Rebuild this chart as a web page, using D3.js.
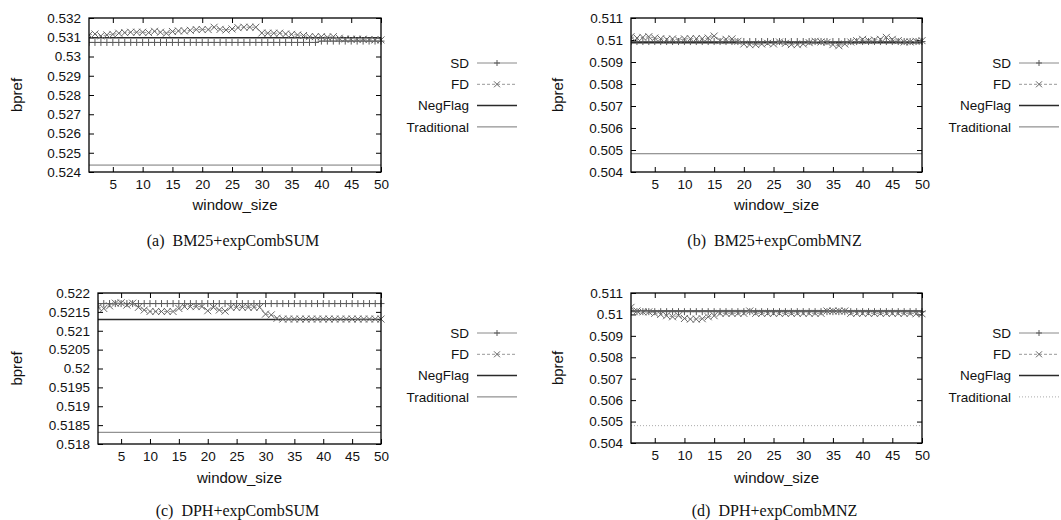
<!DOCTYPE html>
<html><head><meta charset="utf-8">
<script src="https://cdnjs.cloudflare.com/ajax/libs/d3/7.8.5/d3.min.js"></script>
<style>body{margin:0;background:#fff}svg{display:block}</style>
</head><body><svg id="chart" width="1061" height="520"></svg>
<script>
// ---------- data ----------
const windowSize = [1,2,3,4,5,6,7,8,9,10,11,12,13,14,15,16,17,18,19,20,21,22,23,24,25,26,27,28,29,30,31,32,33,34,35,36,37,38,39,40,41,42,43,44,45,46,47,48,49,50];
const xTicks = [5,10,15,20,25,30,35,40,45,50];
const seriesNames = ["SD","FD","NegFlag","Traditional"];
const captions = ["(a)  BM25+expCombSUM","(b)  BM25+expCombMNZ","(c)  DPH+expCombSUM","(d)  DPH+expCombMNZ"];
const xLabel = "window_size";
const yLabel = "bpref";

const yTicksA = [0.524,0.525,0.526,0.527,0.528,0.529,0.53,0.531,0.532];
const yTickLabelsA = ["0.524","0.525","0.526","0.527","0.528","0.529","0.53","0.531","0.532"];
const yTicksB = [0.504,0.505,0.506,0.507,0.508,0.509,0.51,0.511];
const yTickLabelsB = ["0.504","0.505","0.506","0.507","0.508","0.509","0.51","0.511"];
const yTicksC = [0.518,0.5185,0.519,0.5195,0.52,0.5205,0.521,0.5215,0.522];
const yTickLabelsC = ["0.518","0.5185","0.519","0.5195","0.52","0.5205","0.521","0.5215","0.522"];
const yTicksD = [0.504,0.505,0.506,0.507,0.508,0.509,0.51,0.511];
const yTickLabelsD = ["0.504","0.505","0.506","0.507","0.508","0.509","0.51","0.511"];

const sdA = [0.53073,0.53073,0.53073,0.53073,0.53073,0.53073,0.53073,0.53073,0.53073,0.53073,0.53073,0.53073,0.53073,0.53073,0.53073,0.53073,0.53073,0.53073,0.53073,0.53073,0.53073,0.53073,0.53073,0.53073,0.53073,0.53073,0.53073,0.53073,0.53073,0.53073,0.53073,0.53073,0.53073,0.53073,0.53073,0.53073,0.53073,0.53073,0.53073,0.5308,0.5308,0.5308,0.5308,0.5308,0.5308,0.5308,0.5308,0.5308,0.5308,0.5308];
const fdA = [0.53112,0.53117,0.53107,0.53112,0.53115,0.53121,0.53124,0.53126,0.53126,0.53126,0.53124,0.53131,0.53126,0.53121,0.5313,0.53133,0.53133,0.53136,0.5314,0.5314,0.5314,0.53152,0.53141,0.53138,0.53143,0.5315,0.53152,0.53152,0.53152,0.53122,0.53121,0.53121,0.53121,0.53117,0.53115,0.53112,0.53109,0.53103,0.53103,0.53103,0.531,0.53103,0.53095,0.53091,0.5309,0.5309,0.5309,0.53088,0.53086,0.53086];
const negFlagA = 0.53098;
const traditionalA = 0.52436;

const sdB = [0.50993,0.50993,0.50993,0.50993,0.50993,0.50993,0.50993,0.50993,0.50993,0.50993,0.50993,0.50993,0.50993,0.50993,0.50993,0.50993,0.50993,0.50993,0.50993,0.50993,0.50993,0.50993,0.50993,0.50993,0.50993,0.50993,0.50993,0.50993,0.50993,0.50993,0.50993,0.50993,0.50993,0.50993,0.50993,0.50993,0.50993,0.50993,0.50993,0.50993,0.50993,0.50993,0.50993,0.50993,0.50993,0.50993,0.50993,0.50993,0.50993,0.50993];
const fdB = [0.51015,0.51009,0.51012,0.51015,0.51009,0.51006,0.51003,0.51005,0.51,0.51005,0.51006,0.51006,0.51006,0.51009,0.51018,0.50997,0.51003,0.51005,0.50994,0.50982,0.50979,0.50979,0.50982,0.50985,0.50982,0.50991,0.50985,0.50979,0.50979,0.50982,0.50988,0.50994,0.50991,0.50989,0.50979,0.50974,0.50982,0.50991,0.50997,0.51003,0.50997,0.51,0.51003,0.51012,0.51003,0.50997,0.50991,0.50991,0.50994,0.50997];
const negFlagB = 0.50987;
const traditionalB = 0.50483;

const sdC = [0.52172,0.52172,0.52172,0.52172,0.52172,0.52172,0.52172,0.52172,0.52172,0.52172,0.52172,0.52172,0.52172,0.52172,0.52172,0.52172,0.52172,0.52172,0.52172,0.52172,0.52172,0.52172,0.52172,0.52172,0.52172,0.52172,0.52172,0.52172,0.52172,0.52172,0.52172,0.52172,0.52172,0.52172,0.52172,0.52172,0.52172,0.52172,0.52172,0.52172,0.52172,0.52172,0.52172,0.52172,0.52172,0.52172,0.52172,0.52172,0.52172,0.52172];
const fdC = [0.52162,0.52159,0.52166,0.52173,0.52174,0.52168,0.52173,0.52162,0.52155,0.52151,0.52151,0.52151,0.52151,0.52151,0.52159,0.52164,0.52164,0.52164,0.52164,0.52153,0.52162,0.52155,0.52152,0.52162,0.52162,0.52162,0.52162,0.52162,0.52162,0.52144,0.52142,0.52133,0.52131,0.52131,0.52131,0.52131,0.52131,0.52131,0.52131,0.52131,0.52131,0.52131,0.52131,0.52131,0.52131,0.52131,0.52131,0.52131,0.52131,0.52131];
const negFlagC = 0.5213;
const traditionalC = 0.51831;

const sdD = [0.51013,0.51013,0.51013,0.51013,0.51013,0.51013,0.51013,0.51013,0.51013,0.51013,0.51013,0.51013,0.51013,0.51013,0.51013,0.51013,0.51013,0.51013,0.51013,0.51013,0.51013,0.51013,0.51013,0.51013,0.51013,0.51013,0.51013,0.51013,0.51013,0.51013,0.51013,0.51013,0.51013,0.51013,0.51013,0.51013,0.51013,0.51013,0.51013,0.51013,0.51013,0.51013,0.51013,0.51013,0.51013,0.51013,0.51013,0.51013,0.51013,0.51013];
const fdD = [0.51033,0.51016,0.51012,0.51012,0.51005,0.51,0.50994,0.50989,0.50994,0.50981,0.50978,0.50978,0.5098,0.50989,0.50994,0.51005,0.51005,0.51005,0.51005,0.51005,0.51016,0.51005,0.51005,0.51005,0.51005,0.51005,0.51005,0.51005,0.51005,0.51005,0.51005,0.51005,0.51005,0.51016,0.51016,0.51016,0.51016,0.51005,0.51005,0.51005,0.51005,0.51005,0.51005,0.51005,0.51005,0.51005,0.51005,0.51005,0.51003,0.51003];
const negFlagD = 0.51016;
const traditionalD = 0.50481;

// ---------- layout ----------
const panels = [
  {sd:sdA, fd:fdA, neg:negFlagA, trad:traditionalA, ticks:yTicksA, labels:yTickLabelsA, cap:captions[0],
   l:89, t:18, r:381, b:172, yl:17, xlY:205, capY:240, legX:469, legY:63, tradDot:false},
  {sd:sdB, fd:fdB, neg:negFlagB, trad:traditionalB, ticks:yTicksB, labels:yTickLabelsB, cap:captions[1],
   l:631, t:18, r:922, b:172, yl:558, xlY:205, capY:240, legX:1011, legY:63, tradDot:false},
  {sd:sdC, fd:fdC, neg:negFlagC, trad:traditionalC, ticks:yTicksC, labels:yTickLabelsC, cap:captions[2],
   l:98, t:293, r:381, b:444, yl:17, xlY:478, capY:510, legX:469, legY:333, tradDot:false},
  {sd:sdD, fd:fdD, neg:negFlagD, trad:traditionalD, ticks:yTicksD, labels:yTickLabelsD, cap:captions[3],
   l:631, t:293, r:922, b:443, yl:558, xlY:478, capY:510, legX:1011, legY:333, tradDot:true}
];

const svg = d3.select("#chart");
const SANS = "'Liberation Sans', Arial, Helvetica, sans-serif";
const SERIF = "'Liberation Serif', 'Times New Roman', serif";
const SD_COL = "#8a8a8a", SD_MARK = "#5a5a5a", FD_COL = "#999", FD_MARK = "#666", NEG_COL = "#2a2a2a", TRAD_COL = "#777";

function plusPath(s){ return `M${-s},0H${s}M0,${-s}V${s}`; }
function crossPath(s){ return `M${-s},${-s}L${s},${s}M${-s},${s}L${s},${-s}`; }

panels.forEach(p => {
  const x = d3.scaleLinear().domain([windowSize[0], windowSize[windowSize.length-1]]).range([p.l, p.r]);
  const y = d3.scaleLinear().domain([p.ticks[0], p.ticks[p.ticks.length-1]]).range([p.b, p.t]);
  const g = svg.append("g");

  const fmt = d => p.labels[p.ticks.indexOf(d)];
  g.append("g").attr("transform",`translate(0,${p.b})`)
    .call(d3.axisBottom(x).tickValues(xTicks).tickSizeInner(-5).tickSizeOuter(0).tickPadding(7));
  g.append("g").attr("transform",`translate(0,${p.t})`)
    .call(d3.axisTop(x).tickValues(xTicks).tickSizeInner(-5).tickSizeOuter(0).tickFormat(""));
  g.append("g").attr("transform",`translate(${p.l},0)`)
    .call(d3.axisLeft(y).tickValues(p.ticks).tickFormat(fmt).tickSizeInner(-5).tickSizeOuter(0).tickPadding(8));
  g.append("g").attr("transform",`translate(${p.r},0)`)
    .call(d3.axisRight(y).tickValues(p.ticks).tickSizeInner(-5).tickSizeOuter(0).tickFormat(""));
  g.selectAll(".domain").remove();
  g.selectAll(".tick line").attr("stroke","#000").attr("stroke-width",1);
  g.selectAll(".tick text").attr("font-family",SANS).attr("font-size","13.5px").attr("fill","#111");

  const cid = "clip" + p.l + "_" + p.t;
  svg.append("clipPath").attr("id",cid).append("rect")
    .attr("x",p.l).attr("y",p.t-4).attr("width",p.r-p.l+4).attr("height",p.b-p.t+8);
  const plot = g.append("g").attr("clip-path",`url(#${cid})`);

  plot.append("line").attr("x1",x(windowSize[0])).attr("x2",x(windowSize[windowSize.length-1]))
    .attr("y1",y(p.trad)).attr("y2",y(p.trad))
    .attr("stroke", p.tradDot ? "#aaa" : TRAD_COL).attr("stroke-width",1)
    .attr("stroke-dasharray", p.tradDot ? "1,2" : null);
  plot.append("line").attr("x1",x(windowSize[0])).attr("x2",x(windowSize[windowSize.length-1]))
    .attr("y1",y(p.neg)).attr("y2",y(p.neg))
    .attr("stroke",NEG_COL).attr("stroke-width",1.5);

  const line = d3.line().x((d,i)=>x(windowSize[i])).y(d=>y(d));
  plot.append("path").datum(p.sd).attr("d",line).attr("fill","none").attr("stroke",SD_COL).attr("stroke-width",1);
  plot.selectAll(".sdm").data(p.sd).join("path").attr("class","sdm")
    .attr("transform",(d,i)=>`translate(${x(windowSize[i])},${y(d)})`)
    .attr("d",plusPath(3.5)).attr("stroke",SD_MARK).attr("stroke-width",1).attr("fill","none");
  plot.append("path").datum(p.fd).attr("d",line).attr("fill","none").attr("stroke",FD_COL)
    .attr("stroke-width",1).attr("stroke-dasharray","3,2");
  plot.selectAll(".fdm").data(p.fd).join("path").attr("class","fdm")
    .attr("transform",(d,i)=>`translate(${x(windowSize[i])},${y(d)})`)
    .attr("d",crossPath(3.5)).attr("stroke",FD_MARK).attr("stroke-width",1).attr("fill","none");

  g.append("rect").attr("x",p.l).attr("y",p.t).attr("width",p.r-p.l).attr("height",p.b-p.t)
    .attr("fill","none").attr("stroke","#000").attr("stroke-width",1.3);

  g.append("text").attr("x",(p.l+p.r)/2).attr("y",p.xlY).attr("dy","0.35em")
    .attr("text-anchor","middle").attr("font-family",SANS).attr("font-size","15px").attr("fill","#111").text(xLabel);
  g.append("text").attr("transform",`translate(${p.yl},${(p.t+p.b)/2}) rotate(-90)`).attr("dy","0.35em")
    .attr("text-anchor","middle").attr("font-family",SANS).attr("font-size","15px").attr("fill","#111").text(yLabel);
  g.append("text").attr("x",(p.l+p.r)/2 - 2).attr("y",p.capY).attr("dy","0.35em")
    .attr("text-anchor","middle").attr("font-family",SERIF).attr("font-size","16px").attr("fill","#111")
    .style("white-space","pre").attr("xml:space","preserve").text(p.cap);

  const lg = g.append("g");
  seriesNames.forEach((name,k) => {
    const ly = p.legY + k*21.3;
    lg.append("text").attr("x",p.legX).attr("y",ly).attr("dy","0.35em").attr("text-anchor","end")
      .attr("font-family",SANS).attr("font-size","13.5px").attr("fill","#111").text(name);
    const x1 = p.legX + 8, x2 = p.legX + 48, xm = (x1+x2)/2;
    const ln = lg.append("line").attr("x1",x1).attr("x2",x2).attr("y1",ly).attr("y2",ly).attr("stroke-width",1);
    if (name==="SD") {
      ln.attr("stroke",SD_COL);
      lg.append("path").attr("transform",`translate(${xm},${ly})`).attr("d",plusPath(3)).attr("stroke",SD_MARK).attr("fill","none");
    } else if (name==="FD") {
      ln.attr("stroke",FD_COL).attr("stroke-dasharray","3,2");
      lg.append("path").attr("transform",`translate(${xm},${ly})`).attr("d",crossPath(3)).attr("stroke",FD_MARK).attr("fill","none");
    } else if (name==="NegFlag") {
      ln.attr("stroke",NEG_COL).attr("stroke-width",1.5);
    } else {
      ln.attr("stroke", p.tradDot ? "#aaa" : TRAD_COL).attr("stroke-dasharray", p.tradDot ? "1,2" : null);
    }
  });
});
</script>
</body></html>
